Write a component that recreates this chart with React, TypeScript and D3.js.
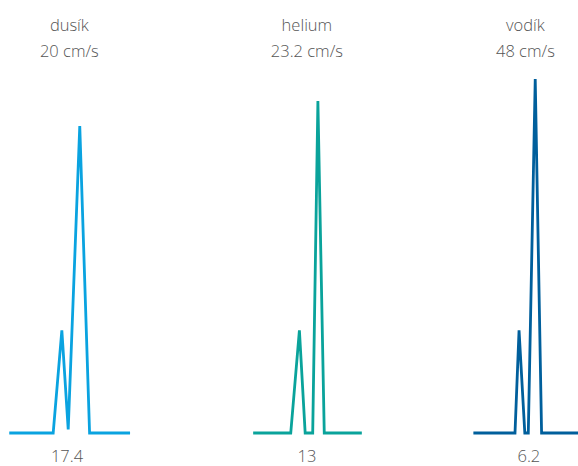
import { useEffect, useRef } from "react";
import * as d3 from "d3";

// gases and their carrier velocities
const gases = ["dusík", "helium", "vodík"];
const velocities = ["20 cm/s", "23.2 cm/s", "48 cm/s"];
const times = ["17.4", "13", "6.2"];
const colors = ["#0aa3e0", "#0aa39b", "#005f9c"];

// chromatogram traces: position (0..100 across the chart) and signal (0..100)
const dusikX = [1.6, 9.2, 10.7, 11.8, 13.8, 15.5, 22.5];
const dusikY = [0, 0, 29, 1, 86.7, 0, 0];
const heliumX = [43.8, 50.3, 51.8, 52.8, 54.1, 55.0, 56.1, 62.6];
const heliumY = [0, 0, 29, 0, 0, 93.8, 0, 0];
const vodikX = [81.9, 89.1, 89.8, 90.8, 91.4, 92.6, 93.7, 100.5];
const vodikY = [0, 0, 29, 0, 0, 100, 0, 0];

// label anchors (same position units)
const labelX = [12.0, 53.1, 90.9];
const timeX = [11.6, 53.1, 91.5];

const W = 578;
const H = 466;

export default function App() {
  const ref = useRef<SVGSVGElement>(null);

  useEffect(() => {
    const svg = d3.select(ref.current);
    svg.selectAll("*").remove();

    const x = d3.scaleLinear().domain([0, 100]).range([0, W]);
    const y = d3.scaleLinear().domain([0, 100]).range([433, 79]);

    const traces = [
      d3.zip(dusikX, dusikY),
      d3.zip(heliumX, heliumY),
      d3.zip(vodikX, vodikY),
    ];

    const line = d3
      .line<number[]>()
      .x((d) => x(d[0]))
      .y((d) => y(d[1]));

    svg
      .selectAll("path.trace")
      .data(traces)
      .join("path")
      .attr("class", "trace")
      .attr("d", (d) => line(d))
      .attr("fill", "none")
      .attr("stroke", (d, i) => colors[i])
      .attr("stroke-width", 2.8);

    const font = "'Open Sans', 'Noto Sans', sans-serif";

    // gas names
    svg
      .selectAll("text.gas")
      .data(gases)
      .join("text")
      .attr("class", "gas")
      .attr("x", (d, i) => x(labelX[i]))
      .attr("y", 31)
      .attr("text-anchor", "middle")
      .attr("font-family", font)
      .attr("font-size", 16.5)
      .attr("font-weight", 300)
      .attr("fill", "#555")
      .text((d) => d);

    // velocities
    svg
      .selectAll("text.vel")
      .data(velocities)
      .join("text")
      .attr("class", "vel")
      .attr("x", (d, i) => x(labelX[i]))
      .attr("y", 57)
      .attr("text-anchor", "middle")
      .attr("font-family", font)
      .attr("font-size", 16.5)
      .attr("font-weight", 300)
      .attr("fill", "#555")
      .text((d) => d);

    // analysis times
    svg
      .selectAll("text.time")
      .data(times)
      .join("text")
      .attr("class", "time")
      .attr("x", (d, i) => x(timeX[i]))
      .attr("y", 462)
      .attr("text-anchor", "middle")
      .attr("font-family", font)
      .attr("font-size", 16.5)
      .attr("font-weight", 300)
      .attr("fill", "#555")
      .text((d) => d);
  }, []);

  return (
    <svg
      ref={ref}
      width={W}
      height={H}
      style={{ position: "absolute", left: 0, top: 0, background: "#fff" }}
    />
  );
}
